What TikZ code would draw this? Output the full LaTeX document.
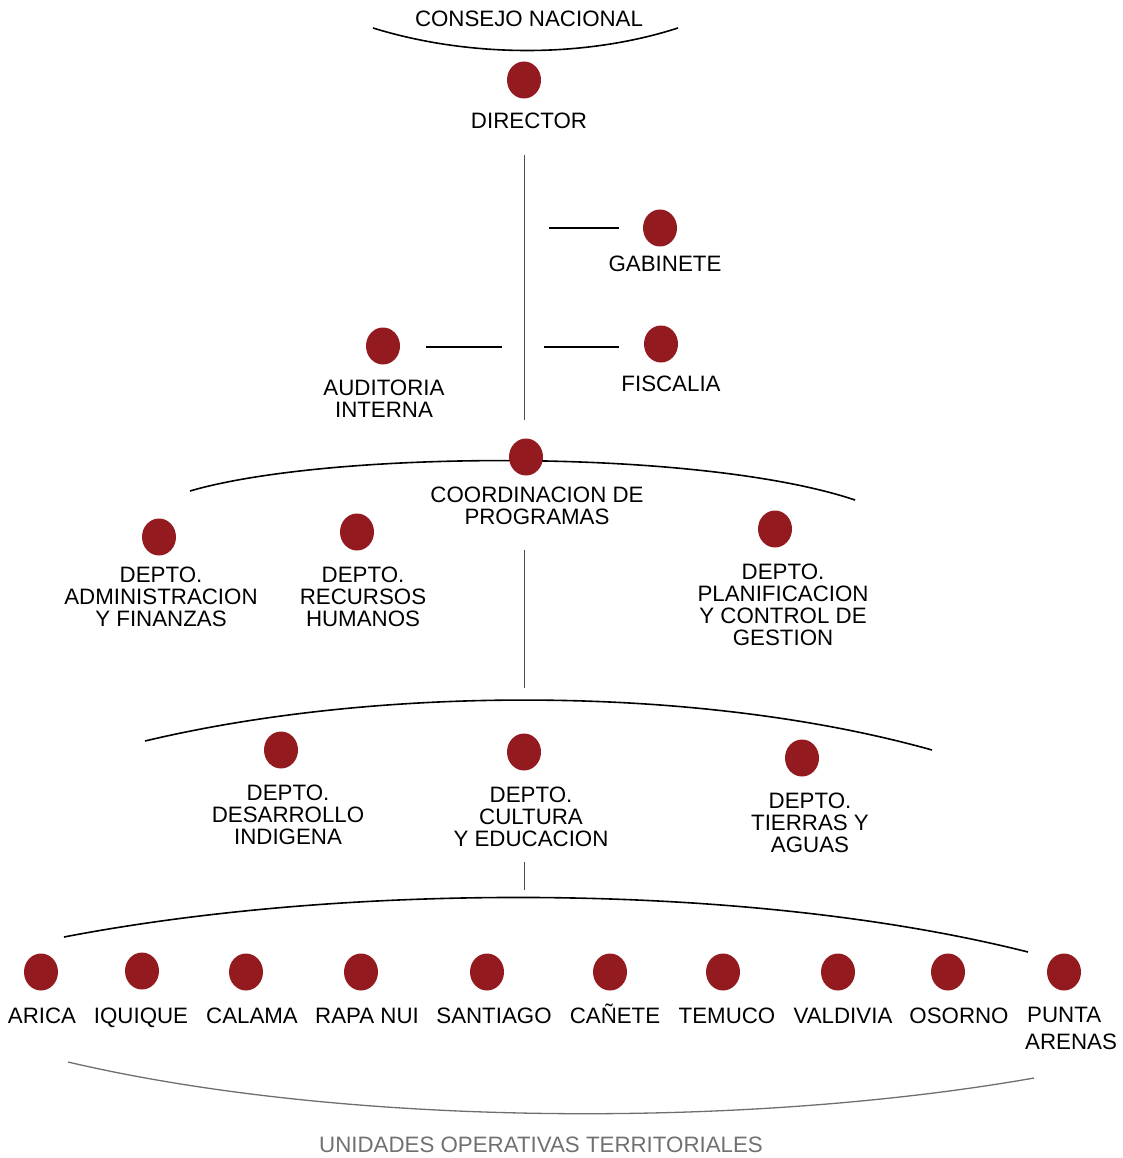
\documentclass[tikz,border=0pt]{standalone}
\usepackage{fontspec}
\setmainfont{Liberation Sans}
\usetikzlibrary{shapes.geometric}
\definecolor{dotred}{HTML}{931A1F}
\definecolor{arcgray}{HTML}{6E6E6E}
\definecolor{txtgray}{HTML}{707070}
\begin{document}
\begin{tikzpicture}[x=1pt,y=-1pt,
 dot/.style={ellipse,fill=dotred,draw=none,minimum width=34pt,minimum height=37pt,inner sep=0pt},
 lbl/.style={font=\fontsize{22.3}{22}\selectfont,align=center,inner sep=0pt},
 blbl/.style={font=\fontsize{22.3}{27}\selectfont,inner sep=0pt,anchor=base},
 arcline/.style={line width=1.6pt,black},
 link/.style={line width=1.1pt,black},
 stem/.style={line width=0.9pt,black!70}]
\useasboundingbox (0,0) rectangle (1122,1158);

% top
\node[lbl] (consejo) at (529,19) {CONSEJO NACIONAL};
\coordinate (a1l) at (373,28); \coordinate (a1r) at (678,28);
\draw[arcline] (a1l) .. controls (470,58) and (585,58) .. (a1r);
\node[dot] (director) at (524,80) {};
\node[lbl] (directorlbl) at (529,121) {DIRECTOR};

% stem 1
\coordinate (s1a) at (524,155); \coordinate (s1b) at (524,420);
\draw[stem] (s1a) -- (s1b);

% gabinete
\node[dot] (gabinete) at (660,228) {};
\node[lbl] (gabinetelbl) at (665,264) {GABINETE};
\coordinate (g1) at (549,228); \coordinate (g2) at (619,228);
\draw[link] (g1) -- (g2);

% fiscalia
\node[dot] (fiscalia) at (661,344) {};
\node[lbl] (fiscalialbl) at (671,384) {FISCALIA};
\coordinate (f1) at (544,347); \coordinate (f2) at (619,347);
\draw[link] (f1) -- (f2);

% auditoria
\node[dot] (auditoria) at (383,346) {};
\node[lbl] (auditorialbl) at (384,399) {AUDITORIA\\INTERNA};
\coordinate (au1) at (426,347); \coordinate (au2) at (502,347);
\draw[link] (au1) -- (au2);

% coordinacion arc
\coordinate (a2l) at (190,491); \coordinate (a2r) at (855,500);
\draw[arcline] (a2l) .. controls (330,450) and (700,448) .. (a2r);
\node[dot] (coord) at (526,457) {};
\node[lbl] (coordlbl) at (537,506) {COORDINACION DE\\PROGRAMAS};

\node[dot] (admin) at (159,537) {};
\node[lbl] (adminlbl) at (161,597) {DEPTO.\\ADMINISTRACION\\Y FINANZAS};
\node[dot] (rrhh) at (357,532) {};
\node[lbl] (rrhhlbl) at (363,597) {DEPTO.\\RECURSOS\\HUMANOS};
\node[dot] (plan) at (775,529) {};
\node[lbl] (planlbl) at (783,605) {DEPTO.\\PLANIFICACION\\Y CONTROL DE\\GESTION};

% stem 2
\coordinate (s2a) at (524,550); \coordinate (s2b) at (524,688);
\draw[stem] (s2a) -- (s2b);

% second arc
\coordinate (a3l) at (145,741); \coordinate (a3r) at (932,750);
\draw[arcline] (a3l) .. controls (380,685) and (700,685) .. (a3r);
\node[dot] (desarrollo) at (281,750) {};
\node[lbl] (desarrollolbl) at (288,815) {DEPTO.\\DESARROLLO\\INDIGENA};
\node[dot] (cultura) at (524,752) {};
\node[lbl] (culturalbl) at (531,817) {DEPTO.\\CULTURA\\Y EDUCACION};
\node[dot] (tierras) at (802,758) {};
\node[lbl] (tierraslbl) at (810,823) {DEPTO.\\TIERRAS Y\\AGUAS};

% stem 3
\coordinate (s3a) at (524,862); \coordinate (s3b) at (524,890);
\draw[stem] (s3a) -- (s3b);

% third arc
\coordinate (a4l) at (64,937); \coordinate (a4r) at (1028,952);
\draw[arcline] (a4l) .. controls (350,882) and (750,882) .. (a4r);

\node[dot] (arica) at (41,972) {};
\node[dot] (iquique) at (142,971) {};
\node[dot] (calama) at (246,972) {};
\node[dot] (rapanui) at (361,972) {};
\node[dot] (santiago) at (487,972) {};
\node[dot] (canete) at (610,972) {};
\node[dot] (temuco) at (723,972) {};
\node[dot] (valdivia) at (838,972) {};
\node[dot] (osorno) at (948,972) {};
\node[dot] (punta) at (1064,972) {};

\node[blbl] (aricalbl) at (42,1023) {ARICA};
\node[blbl] (iquiquelbl) at (141,1023) {IQUIQUE};
\node[blbl] (calamalbl) at (252,1023) {CALAMA};
\node[blbl] (rapanuilbl) at (367,1023) {RAPA NUI};
\node[blbl] (santiagolbl) at (494,1023) {SANTIAGO};
\node[blbl] (canetelbl) at (615,1023) {CAÑETE};
\node[blbl] (temucolbl) at (727,1023) {TEMUCO};
\node[blbl] (valdivialbl) at (843,1023) {VALDIVIA};
\node[blbl] (osornolbl) at (959,1023) {OSORNO};
\node[blbl,anchor=west,align=left,font=\fontsize{22.3}{27}\selectfont] (puntalbl) at (1025,1028.5) {\hspace{2pt}PUNTA\\ARENAS};

% bottom arc
\coordinate (a5l) at (68,1062); \coordinate (a5r) at (1034,1078);
\draw[line width=1.3pt,arcgray] (a5l) .. controls (350,1128) and (750,1128) .. (a5r);
\node[lbl,text=txtgray] (unidades) at (541,1145) {UNIDADES OPERATIVAS TERRITORIALES};
\end{tikzpicture}
\end{document}
